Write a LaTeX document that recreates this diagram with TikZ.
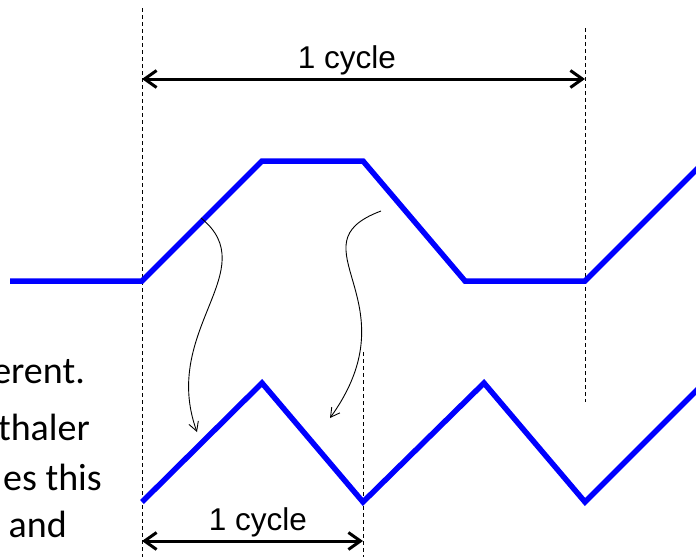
\documentclass[tikz,border=0pt]{standalone}
\usepackage{fontspec}
\setmainfont{Carlito}
\newfontfamily\arial{Liberation Sans}
\usetikzlibrary{arrows.meta}

\begin{document}
\begin{tikzpicture}[x=1pt,y=-1pt]
	% Styles (MODIFIABLES)
	\tikzstyle{signal}=[draw=blue,line width=5.5pt]
	\tikzstyle{repere}=[black,line width=1pt,dash pattern=on 4pt off 3pt]
	\tikzstyle{fleche}=[<->,>={Straight Barb[length=12pt,width=17pt]},line width=3pt]
	\tikzstyle{courbe}=[->,>={Straight Barb[length=9pt,width=10pt]},line width=0.9pt]
	\tikzstyle{etiquette}=[inner sep=0pt,anchor=base,font=\arial\fontsize{31.5}{38}\selectfont]
	\tikzstyle{texte}=[inner sep=0pt,anchor=base east,font=\fontsize{38}{46}\selectfont]
	% Cadre
	\useasboundingbox (0,0) rectangle (696,557);
	\clip (0,0) rectangle (696,557);
	% Dimensions (MODIFIABLES)
	\def\HautA{161}
	\def\HautB{281}
	\def\BasA{383}
	\def\BasB{502}
	% Points (signal du haut)
	\coordinate (H0) at (10,\HautB);
	\coordinate (H1) at (142,\HautB);
	\coordinate (H2) at (262,\HautA);
	\coordinate (H3) at (363,\HautA);
	\coordinate (H4) at (465,\HautB);
	\coordinate (H5) at (585,\HautB);
	\coordinate (H6) at (702,164);
	% Points (signal du bas)
	\coordinate (B1) at (142,\BasB);
	\coordinate (B2) at (262,\BasA);
	\coordinate (B3) at (363,\BasB);
	\coordinate (B4) at (484,\BasA);
	\coordinate (B5) at (585,\BasB);
	\coordinate (B6) at (702,385);
	% Reperes
	\coordinate (R1h) at (142,8);
	\coordinate (R1b) at (142,557);
	\coordinate (R2h) at (585,28);
	\coordinate (R2b) at (585,402);
	\coordinate (R3h) at (363,352);
	\coordinate (R3b) at (363,557);
	% Fleches
	\coordinate (FAg) at (142,79);
	\coordinate (FAd) at (585,79);
	\coordinate (FBg) at (142,541);
	\coordinate (FBd) at (363,541);
	\coordinate (C1a) at (201,218);
	\coordinate (C1b) at (197,432);
	\coordinate (C2a) at (381,211);
	\coordinate (C2b) at (330,418);
	% Noeuds (textes)
	\node[etiquette] (cycleA) at (347,68) {1 cycle};
	\node[etiquette] (cycleB) at (258,530) {1 cycle};
	\node[texte] (ligneA) at (85,383) {erent.};
	\node[texte] (ligneB) at (90,440) {thaler};
	\node[texte] (ligneC) at (102,490) {es this};
	\node[texte] (ligneD) at (67,537) {and};
	% Arcs (MODIFIABLES : Styles)
	\draw[repere] (R1h)--(R1b);
	\draw[repere] (R2h)--(R2b);
	\draw[repere] (R3h)--(R3b);
	\draw[signal] (H0)--(H1)--(H2)--(H3)--(H4)--(H5)--(H6);
	\draw[signal] (B1)--(B2)--(B3)--(B4)--(B5)--(B6);
	\draw[fleche] (FAg)--(FAd);
	\draw[fleche] (FBg)--(FBd);
	\draw[courbe] (C1a) .. controls (265,270) and (160,330) .. (C1b);
	\draw[courbe] (C2a) .. controls (290,245) and (415,300) .. (C2b);
\end{tikzpicture}
\end{document}
